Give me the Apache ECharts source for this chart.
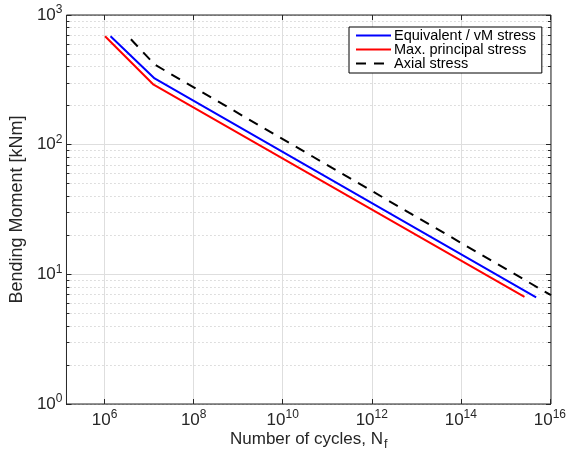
<!DOCTYPE html>
<html>
<head>
<meta charset="utf-8">
<script src="https://cdn.jsdelivr.net/npm/echarts@6/dist/echarts.min.js"></script>
<style>
  html, body { margin: 0; padding: 0; background: #fff; }
  #chart { width: 569px; height: 459px; }
</style>
</head>
<body>
<div id="chart"></div>
<script>
// S-N curves: bending moment vs. number of cycles to failure (log-log)
const seriesNames = ['Equivalent / vM stress', 'Max. principal stress', 'Axial stress'];

const cyclesEquivalent = [1.0e6, 1.0e7, 4.6e15];
const momentEquivalent = [685, 324, 6.65];

const cyclesPrincipal = [7.5e5, 9.5e6, 2.5e15];
const momentPrincipal = [685, 290, 6.7];

const cyclesAxial = [2.9e6, 1.0e7, 1.0e16];
const momentAxial = [650, 415, 6.9];

// labelled / gridded decades on the cycle axis (exponents)
const xDecadeExponents = [6, 8, 10, 12, 14, 16];
// minor ticks inside each decade of the moment axis
const yMinorMultipliers = [2, 3, 4, 5, 6, 7, 8, 9];

const FONT = '"Liberation Sans", Arial, Helvetica, sans-serif';
const TEXT = '#262626';
const MAJOR_GRID = '#dedede';
const MINOR_GRID = '#bfbfbf';

const pairs = (xs, ys) => xs.map((x, i) => [x, ys[i]]);
const pow10Label = e => '{b|10}{s|' + e + '}';

const supRich = {
  b: { fontSize: 17, fontFamily: FONT, color: TEXT, lineHeight: 22 },
  s: { fontSize: 12, fontFamily: FONT, color: TEXT, lineHeight: 22, verticalAlign: 'top', padding: [0, 0, 9, 0] }
};

// plot box
const L = 60, T = 15, W = 491, H = 389;
const X_MIN = 1e5, X_MAX = 1e16;
const decadePx = W / Math.log10(X_MAX / X_MIN);
const firstGrid = xDecadeExponents[0];
const lastGrid = xDecadeExponents[xDecadeExponents.length - 1];
const gridStep = xDecadeExponents[1] - xDecadeExponents[0];
const Y_MIN = 1, Y_MAX = 1000;

// A log axis spanning [Y_MIN/k, Y_MAX/k] puts its decade ticks exactly
// where k·10^n sits on the main axis: one such axis per minor multiplier.
const minorYAxes = [];
yMinorMultipliers.forEach(k => {
  ['left', 'right'].forEach(side => {
    minorYAxes.push({
      type: 'log', logBase: 10, gridIndex: 0, position: side,
      min: Y_MIN / k, max: Y_MAX / k,
      axisLine: { show: false }, axisLabel: { show: false },
      axisTick: { show: true, inside: true, length: 3, lineStyle: { color: TEXT } },
      splitLine: { show: side === 'left', lineStyle: { color: MINOR_GRID, width: 1, type: [1, 3] } },
      z: 0
    });
  });
});

// Decade axis for the cycle count, in exponent units, laid over the
// part of the plot from 10^firstGrid onwards (every second decade).
const decadeAxisCommon = {
  type: 'value', gridIndex: 1, min: firstGrid, max: lastGrid, interval: gridStep,
  axisLine: { show: false },
  axisTick: { show: true, inside: true, length: 5, lineStyle: { color: TEXT } }
};

const chart = echarts.init(document.getElementById('chart'), null, { renderer: 'canvas' });

chart.setOption({
  animation: false,
  backgroundColor: '#fff',
  grid: [
    { left: L, top: T, width: W, height: H, show: true, borderColor: TEXT, borderWidth: 1, backgroundColor: 'transparent', containLabel: false, z: 3 },
    { left: L + (firstGrid - Math.log10(X_MIN)) * decadePx, top: T,
      width: W - (firstGrid - Math.log10(X_MIN)) * decadePx, height: H, show: false }
  ],
  xAxis: [
    {
      type: 'log', logBase: 10, gridIndex: 0, min: X_MIN, max: X_MAX,
      axisLine: { show: false }, axisTick: { show: false }, splitLine: { show: false },
      axisLabel: { show: false },
      name: 'Number of cycles, N{sub|f}', nameLocation: 'middle', nameGap: 24,
      nameTextStyle: {
        fontSize: 17, fontFamily: FONT, color: TEXT,
        rich: { sub: { fontSize: 12.5, fontFamily: FONT, color: TEXT, padding: [10, 0, 0, 1] } }
      }
    },
    Object.assign({}, decadeAxisCommon, {
      position: 'bottom',
      axisLabel: { margin: 5, formatter: v => pow10Label(v), rich: supRich },
      splitLine: { show: true, lineStyle: { color: MAJOR_GRID, width: 1 } }
    }),
    Object.assign({}, decadeAxisCommon, {
      position: 'top', axisLabel: { show: false }, splitLine: { show: false }
    })
  ],
  yAxis: [
    {
      type: 'log', logBase: 10, gridIndex: 0, min: Y_MIN, max: Y_MAX, position: 'left',
      axisLine: { show: false },
      axisTick: { show: true, inside: true, length: 5, lineStyle: { color: TEXT } },
      splitLine: { show: true, lineStyle: { color: MAJOR_GRID, width: 1 } },
      axisLabel: {
        margin: 4,
        formatter: v => pow10Label(Math.round(Math.log10(v))),
        rich: supRich
      },
      name: 'Bending Moment [kNm]', nameLocation: 'middle', nameGap: 30,
      nameTextStyle: { fontSize: 18, fontFamily: FONT, color: TEXT }
    },
    {
      type: 'log', logBase: 10, gridIndex: 0, min: Y_MIN, max: Y_MAX, position: 'right',
      axisLine: { show: false }, axisLabel: { show: false }, splitLine: { show: false },
      axisTick: { show: true, inside: true, length: 5, lineStyle: { color: TEXT } }
    },
    { type: 'value', gridIndex: 1, min: 0, max: 1, show: false }
  ].concat(minorYAxes),
  legend: {
    orient: 'vertical', left: 349, top: 27,
    itemWidth: 35, itemHeight: 14, itemGap: -1,
    padding: [1, 6, 2, 6],
    borderColor: '#000', borderWidth: 1, backgroundColor: '#fff',
    itemStyle: { opacity: 0 },
    textStyle: { fontSize: 14.5, lineHeight: 14, fontFamily: FONT, color: '#000', padding: [0, 0, 0, -2] },
    data: seriesNames
  },
  series: [
    {
      name: seriesNames[0], type: 'line', xAxisIndex: 0, yAxisIndex: 0,
      data: pairs(cyclesEquivalent, momentEquivalent), symbol: 'none',
      lineStyle: { color: '#0000ff', width: 2 }, itemStyle: { color: '#0000ff' }
    },
    {
      name: seriesNames[1], type: 'line', xAxisIndex: 0, yAxisIndex: 0,
      data: pairs(cyclesPrincipal, momentPrincipal), symbol: 'none',
      lineStyle: { color: '#ff0000', width: 2 }, itemStyle: { color: '#ff0000' }
    },
    {
      name: seriesNames[2], type: 'line', xAxisIndex: 0, yAxisIndex: 0,
      data: pairs(cyclesAxial, momentAxial), symbol: 'none',
      lineStyle: { color: '#000000', width: 2, type: [10, 8] }, itemStyle: { color: '#000000' }
    }
  ]
});
</script>
</body>
</html>
